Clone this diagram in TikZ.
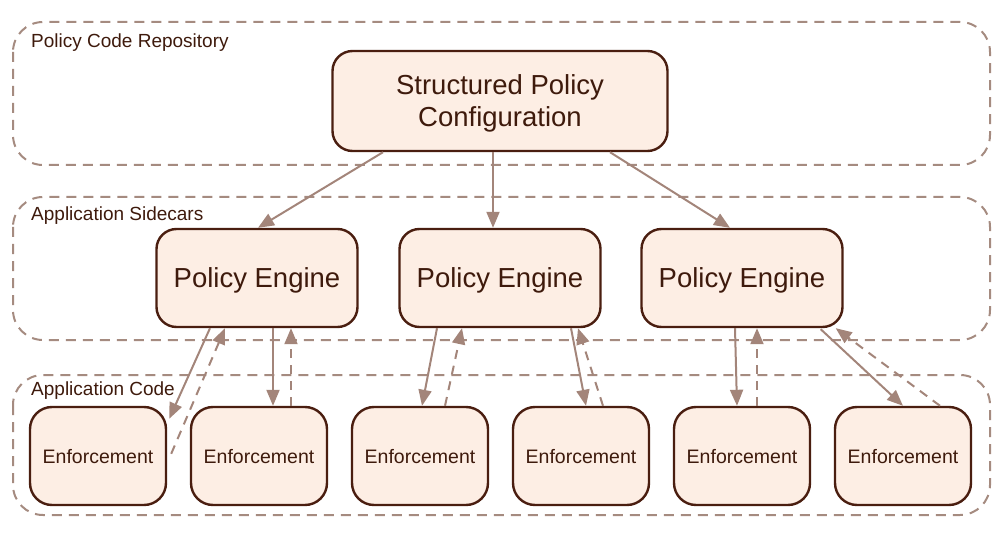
\documentclass[tikz,border=0pt]{standalone}
\usepackage{fontspec}
\setmainfont{Liberation Sans}
\usetikzlibrary{arrows.meta}
\definecolor{nodefill}{HTML}{FDEEE4}
\definecolor{nodeline}{HTML}{4A1E10}
\definecolor{txt}{HTML}{3E1A0C}
\definecolor{arr}{HTML}{A3857A}
\definecolor{grp}{HTML}{A58B80}
\begin{document}
\begin{tikzpicture}[x=1pt,y=-1pt,
  box/.style={draw=nodeline,fill=nodefill,line width=2.4pt,rounded corners=20pt,text=txt,align=center,inner sep=0pt},
  group/.style={draw=grp,line width=2pt,dash pattern=on 10pt off 7pt,rounded corners=30pt},
  glabel/.style={anchor=west,text=txt,font=\fontsize{19}{22}\selectfont,inner sep=0pt},
  flow/.style={draw=arr,line width=2pt,-{Triangle[length=16pt,width=13pt]}},
  back/.style={draw=arr,line width=2pt,dash pattern=on 9pt off 7pt,-{Triangle[length=16pt,width=13pt]}}]
\useasboundingbox (0,0) rectangle (1004,540);
% groups
\draw[group] (13,22) rectangle (990,165);
\draw[group] (13,197) rectangle (990,340);
\draw[group] (13,375) rectangle (990,515);
\node[glabel] (g1) at (31,43) {Policy Code Repository};
\node[glabel] (g2) at (31,216) {Application Sidecars};
\node[glabel] (g3) at (31,391) {Application Code};
% nodes
\node[box,minimum width=335pt,minimum height=100pt,text depth=0pt,font=\fontsize{27.5}{32}\selectfont] (spc) at (500,101) {Structured Policy\\Configuration};
\foreach \n/\x in {pe1/257,pe2/500,pe3/742}
  \node[box,minimum width=201pt,minimum height=98pt,text depth=0pt,font=\fontsize{27.5}{32}\selectfont] (\n) at (\x,278) {Policy Engine};
\foreach \n/\x in {en1/98,en2/259,en3/420,en4/581,en5/742,en6/903}
  \node[box,minimum width=136pt,minimum height=98pt,rounded corners=22pt,text depth=0pt,font=\fontsize{19.5}{23}\selectfont] (\n) at (\x,456) {Enforcement};
% config to engines
\draw[flow] ([xshift=-117pt]spc.south) -- ([xshift=1pt]pe1.north);
\draw[flow] ([xshift=-7pt]spc.south) -- ([xshift=-7pt]pe2.north);
\draw[flow] ([xshift=110pt]spc.south) -- ([xshift=-12pt]pe3.north);
% engine 1
\draw[flow] ([xshift=-47pt]pe1.south) -- ([xshift=2pt,yshift=-13pt]en1.north east);
\draw[back] ([xshift=4pt,yshift=-48pt]en1.north east) -- ([xshift=-32pt]pe1.south);
\draw[flow] ([xshift=16pt]pe1.south) -- ([xshift=14pt]en2.north);
\draw[back] ([xshift=32pt]en2.north) -- ([xshift=34pt]pe1.south);
% engine 2
\draw[flow] ([xshift=-63pt]pe2.south) -- ([xshift=2pt]en3.north);
\draw[back] ([xshift=25pt]en3.north) -- ([xshift=-38pt]pe2.south);
\draw[flow] ([xshift=71pt]pe2.south) -- ([xshift=5pt]en4.north);
\draw[back] ([xshift=22pt]en4.north) -- ([xshift=78pt]pe2.south);
% engine 3
\draw[flow] ([xshift=-7pt]pe3.south) -- ([xshift=-5pt]en5.north);
\draw[back] ([xshift=15pt]en5.north) -- ([xshift=15pt]pe3.south);
\draw[flow] ([xshift=-23pt,yshift=-1pt]pe3.south east) -- ([xshift=0pt]en6.north);
\draw[back] ([xshift=37pt]en6.north) -- ([xshift=-8pt]pe3.south east);
\end{tikzpicture}
\end{document}
